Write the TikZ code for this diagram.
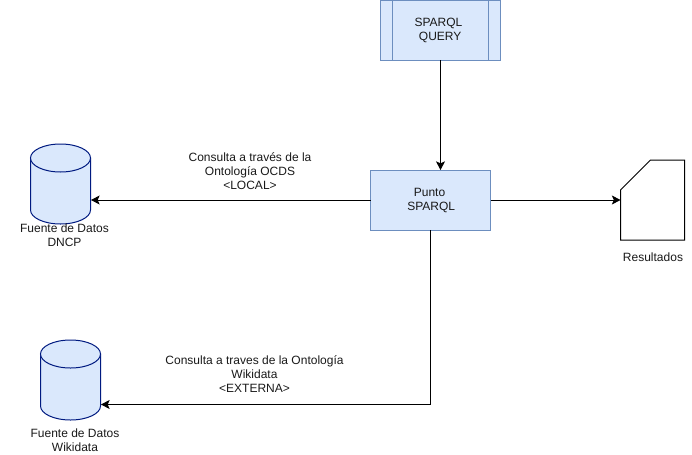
\documentclass[tikz,border=0pt]{standalone}
\usepackage{fontspec}
\setmainfont{Liberation Sans}
\usetikzlibrary{arrows.meta}
\definecolor{boxfill}{HTML}{DAE8FC}
\definecolor{boxline}{HTML}{6C8EBF}
\definecolor{cylline}{HTML}{001A80}
\tikzset{
  blockbox/.style={draw=boxline,fill=boxfill,line width=0.75pt,minimum width=90pt,minimum height=45pt,inner sep=0pt,outer sep=0pt},
  dbframe/.style={draw=none,minimum width=45pt,minimum height=60pt,inner sep=0pt,outer sep=0pt},
  dbpaint/.style={draw=cylline,fill=boxfill,line width=0.75pt},
  txt/.style={align=center,font=\fontsize{9}{10.5}\selectfont,inner sep=0pt,text=black!90},
  arrowline/.style={draw=black,line width=0.75pt,-{Stealth[length=6.5pt,width=6.8pt,inset=1.5pt]}},
  docshape/.style={draw=none,minimum width=48pt,minimum height=60pt,inner sep=0pt,outer sep=0pt},
}
\newcommand{\cylpaint}[1]{%
  \draw[dbpaint] ([yshift=-10.5pt]#1.north west) -- ([yshift=10.5pt]#1.south west)
    .. controls ([yshift=4.7pt]#1.south west) and ([xshift=-12.43pt]#1.south) .. (#1.south)
    .. controls ([xshift=12.43pt]#1.south) and ([yshift=4.7pt]#1.south east) .. ([yshift=10.5pt]#1.south east)
    -- ([yshift=-10.5pt]#1.north east) -- cycle;
  \draw[dbpaint] ([yshift=-10.5pt]#1.north) ellipse [x radius=22.5pt,y radius=10.5pt];
}
\begin{document}
\begin{tikzpicture}[x=0.75pt,y=-0.75pt]
\useasboundingbox (0,0) rectangle (692,454);
\node[blockbox] (query) at (440.5,30) {};
\draw[boxline,line width=0.75pt] ([xshift=9pt]query.north west) -- ([xshift=9pt]query.south west);
\draw[boxline,line width=0.75pt] ([xshift=-9pt]query.north east) -- ([xshift=-9pt]query.south east);
\node[txt] (querytext) at (438.5,30.5) {SPARQL\\\ QUERY};
\node[blockbox] (punto) at (430.5,200) {};
\node[txt] (puntotext) at (429.5,201) {Punto\\\ SPARQL};
\node[dbframe] (dncp) at (60.5,184) {};
\cylpaint{dncp}
\node[dbframe] (wiki) at (70.5,380) {};
\cylpaint{wiki}
\node[docshape] (res) at (652.5,200) {};
\draw[black,fill=white,line width=0.75pt] (res.north east) -- (res.south east) -- (res.south west) -- ([yshift=-22.5pt]res.north west) -- ([xshift=22.5pt]res.north west) -- cycle;
\node[txt] (dncpl) at (64.5,235) {Fuente de Datos\\DNCP};
\node[txt] (wikil) at (75,440.5) {Fuente de Datos\\Wikidata};
\node[txt] (resl) at (653,257) {Resultados};
\node[txt] (l1) at (250,171) {Consulta a través de la\\Ontología OCDS\\<LOCAL>};
\node[txt] (l2) at (254.5,374) {Consulta a traves de la Ontología\\Wikidata\\<EXTERNA>};
\coordinate (dncpin) at (91,200);
\coordinate (wikiin) at (101,404.5);
\draw[arrowline] (query.south) -- (query.south |- punto.north);
\draw[arrowline] (punto.west) -- (dncpin);
\draw[arrowline] (punto.east) -- (res.west);
\draw[arrowline] (punto.south) |- (wikiin);
\end{tikzpicture}
\end{document}
